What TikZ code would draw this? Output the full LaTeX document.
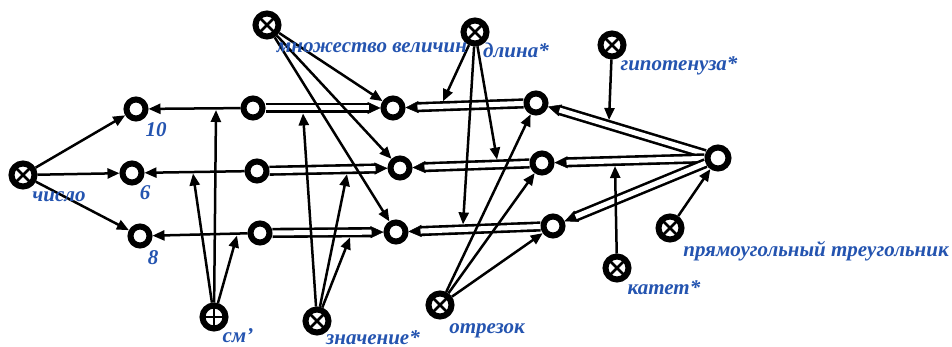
\documentclass[tikz,border=0pt]{standalone}
\usepackage{fontspec}
\setmainfont{Liberation Serif}
\usetikzlibrary{arrows.meta,calc}
\definecolor{lblue}{RGB}{36,84,176}
\newcommand\mybar[2]{%
  \draw[line width=0.5pt,-{Triangle[length=13pt,width=12pt]}] (#1) -- (#2);
  \draw[line width=2.6pt,double=white,double distance=5pt,shorten >=12pt] (#1) -- (#2);
}
\begin{document}
\begin{tikzpicture}[x=1pt,y=-1pt,
  ring/.style={circle,draw,line width=6pt,minimum size=19pt,inner sep=0pt},
  xnode/.style={circle,draw,line width=6pt,minimum size=23pt,inner sep=0pt,
    path picture={\draw[line width=2.6pt] (path picture bounding box.north west)--(path picture bounding box.south east)
      (path picture bounding box.north east)--(path picture bounding box.south west);}},
  pnode/.style={circle,draw,line width=6pt,minimum size=23pt,inner sep=0pt,
    path picture={\draw[line width=2.6pt] (path picture bounding box.north)--(path picture bounding box.south)
      (path picture bounding box.east)--(path picture bounding box.west);}},
  arr/.style={line width=2.5pt,-{Triangle[length=12pt,width=10pt]}},
  lbl/.style={text=lblue,font=\bfseries\itshape\fontsize{21}{21}\selectfont,inner sep=0pt,anchor=base},
]
\useasboundingbox[fill=white] (0,0) rectangle (952,347);

% nodes
\node[xnode] (chislo) at (23,175) {};
\node[ring] (n10) at (136,109) {};
\node[ring] (n6) at (132,173) {};
\node[ring] (n8) at (140,236) {};
\node[ring] (a1) at (253,108) {};
\node[ring] (a2) at (257,171) {};
\node[ring] (a3) at (260,233) {};
\node[ring] (b1) at (393,108) {};
\node[ring] (b2) at (400,168) {};
\node[ring] (b3) at (396,232) {};
\node[ring] (c1) at (536,103) {};
\node[ring] (c2) at (542,163) {};
\node[ring] (c3) at (553,226) {};
\node[ring,minimum size=21pt] (T) at (718,158) {};
\node[xnode] (mv) at (267,25) {};
\node[xnode] (dl) at (475,32) {};
\node[xnode] (gip) at (612,45) {};
\node[pnode] (sm) at (214,317) {};
\node[xnode] (zn) at (317,321) {};
\node[xnode] (otr) at (440,305) {};
\node[xnode] (kat) at (617,268) {};
\node[xnode] (pt) at (670,228) {};

% landing points
\coordinate (s1) at (216,110);
\coordinate (s2) at (193,173.5);
\coordinate (s3) at (237,235.5);
\coordinate (z1) at (303,113.4);
\coordinate (z2) at (347,174.1);
\coordinate (z3) at (350,237.3);
\coordinate (d1) at (443,101.3);
\coordinate (d2) at (497,159.6);
\coordinate (d3) at (463,224.4);
\coordinate (g1) at (609,120);
\coordinate (k1) at (615,166);

% bars
\mybar{a1}{b1}
\mybar{a2}{b2}
\mybar{a3}{b3}
\mybar{c1}{b1}
\mybar{c2}{b2}
\mybar{c3}{b3}
\mybar{T}{c1}
\mybar{T}{c2}
\mybar{T}{c3}

% thin arrows
\draw[arr] (chislo) -- (n10);
\draw[arr] (chislo) -- (n6);
\draw[arr] (chislo) -- (n8);
\draw[arr] (a1) -- (n10);
\draw[arr] (a2) -- (n6);
\draw[arr] (a3) -- (n8);
\draw[arr] (sm) -- (s1);
\draw[arr] (sm) -- (s2);
\draw[arr] (sm) -- (s3);
\draw[arr] (mv) -- (b1);
\draw[arr] (mv) -- (b2);
\draw[arr] (mv) -- (b3);
\draw[arr] (zn) -- (z1);
\draw[arr] (zn) -- (z2);
\draw[arr] (zn) -- (z3);
\draw[arr] (dl) -- (d1);
\draw[arr] (dl) -- (d2);
\draw[arr] (dl) -- (d3);
\draw[arr] (otr) -- (c1);
\draw[arr] (otr) -- (c2);
\draw[arr] (otr) -- (c3);
\draw[arr] (gip) -- (g1);
\draw[arr] (kat) -- (k1);
\draw[arr] (pt) -- (T);

% labels
\node[lbl] (lchislo) at (59,202) {число};
\node[lbl] (l10) at (156,137) {10};
\node[lbl] (l6) at (145,200) {6};
\node[lbl] (l8) at (153,265) {8};
\node[lbl] (lsm) at (238,342) {см'};
\node[lbl] (lmv) at (372,53) {множество величин};
\node[lbl] (ldl) at (516,58) {длина*};
\node[lbl] (lgip) at (679,71) {гипотенуза*};
\node[lbl] (lpt) at (816,256) {прямоугольный треугольник};
\node[lbl] (lkat) at (664,294) {катет*};
\node[lbl] (lotr) at (487,333) {отрезок};
\node[lbl] (lzn) at (373,344) {значение*};
\end{tikzpicture}
\end{document}
